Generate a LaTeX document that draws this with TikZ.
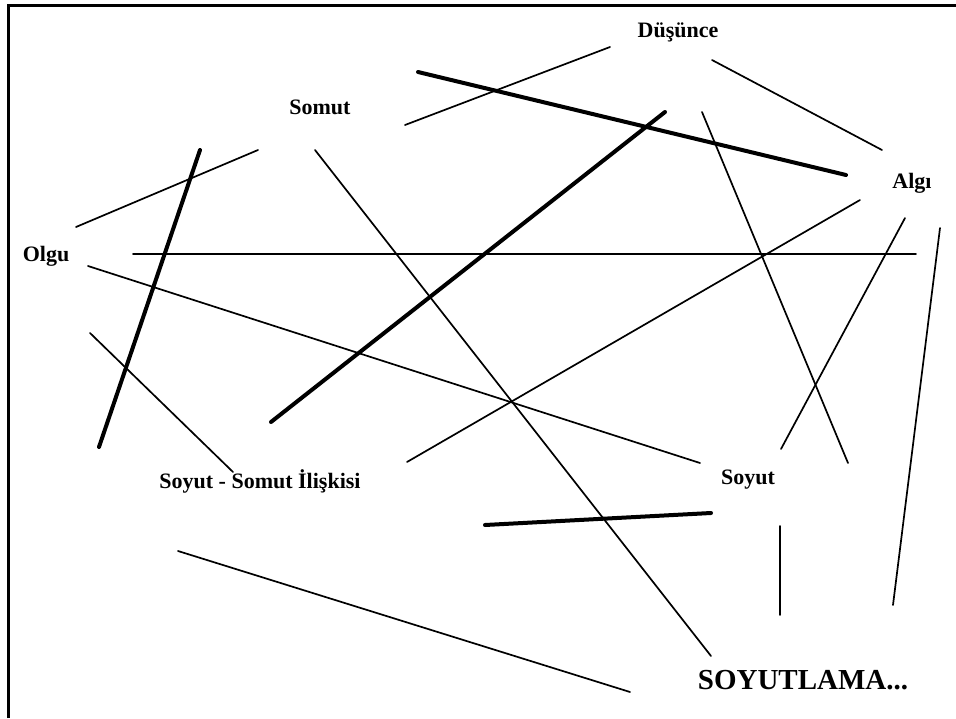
\documentclass[tikz,border=0pt]{standalone}
\usepackage{fontspec}
\setmainfont{Liberation Serif}
\begin{document}
\begin{tikzpicture}[x=1pt,y=-1pt,
  thinline/.style={line width=1.7pt,line cap=round},
  thickline/.style={line width=4pt,line cap=round},
  frameline/.style={line width=3pt},
  label/.style={font=\fontsize{22}{24}\selectfont\bfseries,inner sep=0pt},
  biglabel/.style={font=\fontsize{29}{31}\selectfont\bfseries,inner sep=0pt}]
\useasboundingbox (0,0) rectangle (956,718);
\fill[white] (0,0) rectangle (956,718);

% frame edges
\coordinate (fa) at (8,718);
\coordinate (fb) at (8,5);
\coordinate (fc) at (956,5);
\draw[frameline] (fa) -- (fb) -- (fc);

% concept labels
\node[label] (dusunce) at (678,32) {Düşünce};
\node[label] (somut) at (320,107) {Somut};
\node[label] (algi) at (912,183) {Algı};
\node[label] (olgu) at (46,256) {Olgu};
\node[label] (iliski) at (260,481) {Soyut - Somut İlişkisi};
\node[label] (soyut) at (748,480) {Soyut};
\node[biglabel] (soyutlama) at (803,680) {SOYUTLAMA...};

% line end points
\coordinate (a1) at (405,125);  \coordinate (a2) at (610,47);
\coordinate (b1) at (712,60);   \coordinate (b2) at (882,150);
\coordinate (c1) at (418,72);   \coordinate (c2) at (846,175);
\coordinate (d1) at (665,112);  \coordinate (d2) at (271,422);
\coordinate (e1) at (702,112);  \coordinate (e2) at (848,463);
\coordinate (f1) at (315,150);  \coordinate (f2) at (711,656);
\coordinate (g1) at (258,150);  \coordinate (g2) at (76,227);
\coordinate (h1) at (200,150);  \coordinate (h2) at (99,447);
\coordinate (i1) at (133,254);  \coordinate (i2) at (916,254);
\coordinate (j1) at (88,266);   \coordinate (j2) at (700,463);
\coordinate (k1) at (90,333);   \coordinate (k2) at (233,472);
\coordinate (l1) at (860,200);  \coordinate (l2) at (407,462);
\coordinate (m1) at (905,218);  \coordinate (m2) at (781,449);
\coordinate (n1) at (940,228);  \coordinate (n2) at (893,605);
\coordinate (o1) at (485,525);  \coordinate (o2) at (711,513);
\coordinate (p1) at (780,526);  \coordinate (p2) at (780,615);
\coordinate (q1) at (178,551);  \coordinate (q2) at (630,692);

% thin strokes
\foreach \s in {a,b,e,f,g,i,j,k,l,m,n,p,q}
  \draw[thinline] (\s1) -- (\s2);
% heavy strokes
\foreach \s in {c,d,h,o}
  \draw[thickline] (\s1) -- (\s2);
\end{tikzpicture}
\end{document}
